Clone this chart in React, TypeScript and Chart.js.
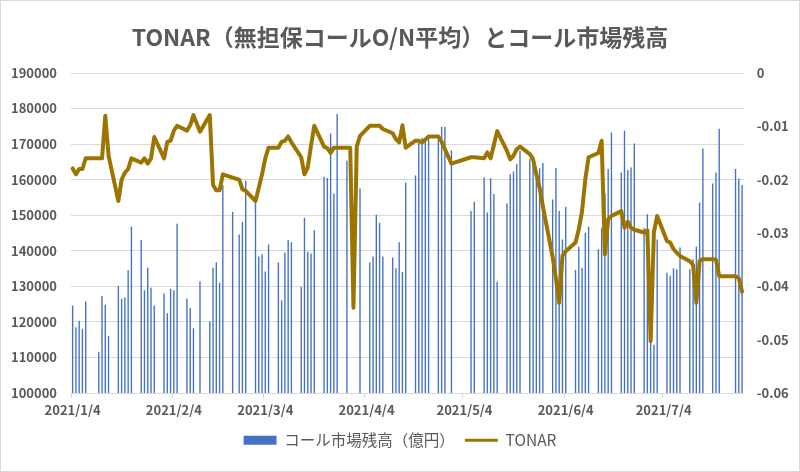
import React, { useEffect, useRef } from 'react';
import { Chart, registerables } from 'chart.js';

Chart.register(...registerables);

// ---- data ----
const chartTitle = 'TONAR（無担保コールO/N平均）とコール市場残高';
const seriesNames = ['コール市場残高（億円）', 'TONAR'];
const xTickLabels = ['2021/1/4', '2021/2/4', '2021/3/4', '2021/4/4', '2021/5/4', '2021/6/4', '2021/7/4'];

const businessDays = [
  '2021/1/4', '2021/1/5', '2021/1/6', '2021/1/7', '2021/1/8',
  '2021/1/12', '2021/1/13', '2021/1/14', '2021/1/15',
  '2021/1/18', '2021/1/19', '2021/1/20', '2021/1/21', '2021/1/22',
  '2021/1/25', '2021/1/26', '2021/1/27', '2021/1/28', '2021/1/29',
  '2021/2/1', '2021/2/2', '2021/2/3', '2021/2/4', '2021/2/5',
  '2021/2/8', '2021/2/9', '2021/2/10', '2021/2/12',
  '2021/2/15', '2021/2/16', '2021/2/17', '2021/2/18', '2021/2/19',
  '2021/2/22', '2021/2/24', '2021/2/25', '2021/2/26',
  '2021/3/1', '2021/3/2', '2021/3/3', '2021/3/4', '2021/3/5',
  '2021/3/8', '2021/3/9', '2021/3/10', '2021/3/11', '2021/3/12',
  '2021/3/15', '2021/3/16', '2021/3/17', '2021/3/18', '2021/3/19',
  '2021/3/22', '2021/3/23', '2021/3/24', '2021/3/25', '2021/3/26',
  '2021/3/29', '2021/3/30', '2021/3/31', '2021/4/1', '2021/4/2',
  '2021/4/5', '2021/4/6', '2021/4/7', '2021/4/8', '2021/4/9',
  '2021/4/12', '2021/4/13', '2021/4/14', '2021/4/15', '2021/4/16',
  '2021/4/19', '2021/4/20', '2021/4/21', '2021/4/22', '2021/4/23',
  '2021/4/26', '2021/4/27', '2021/4/28', '2021/4/30',
  '2021/5/6', '2021/5/7',
  '2021/5/10', '2021/5/11', '2021/5/12', '2021/5/13', '2021/5/14',
  '2021/5/17', '2021/5/18', '2021/5/19', '2021/5/20', '2021/5/21',
  '2021/5/24', '2021/5/25', '2021/5/26', '2021/5/27', '2021/5/28',
  '2021/5/31', '2021/6/1', '2021/6/2', '2021/6/3', '2021/6/4',
  '2021/6/7', '2021/6/8', '2021/6/9', '2021/6/10', '2021/6/11',
  '2021/6/14', '2021/6/15', '2021/6/16', '2021/6/17', '2021/6/18',
  '2021/6/21', '2021/6/22', '2021/6/23', '2021/6/24', '2021/6/25',
  '2021/6/28', '2021/6/29', '2021/6/30', '2021/7/1', '2021/7/2',
  '2021/7/5', '2021/7/6', '2021/7/7', '2021/7/8', '2021/7/9',
  '2021/7/12', '2021/7/13', '2021/7/14', '2021/7/15', '2021/7/16',
  '2021/7/19', '2021/7/20', '2021/7/21',
  '2021/7/26', '2021/7/27', '2021/7/28',
];

const callBalance: (number | null)[] = [
  124600, 118500, 120300, 118000, 125700,
  111600, 127300, 124800, 116000,
  130100, 126500, 126900, 134600, 146800,
  143000, 128900, 135200, 129600, 124600,
  128000, 122400, 129300, 128900, 147600,
  126600, 123900, 118200, 131400,
  120100, 135200, 136800, 131000, 158500,
  150900, 144600, 148100, 159700,
  153600, 138400, 139000, 134200, 141800,
  136700, 126100, 139500, 143000, 142400,
  129800, 149300, 139700, 139200, 145800,
  160800, 160500, 173000, 156100, 178500,
  165300, null, null, null, 157500,
  136700, 138400, 150100, 147900, 138400,
  138100, 135100, 142400, 134000, 159200,
  161200, 170300, 171800, 170800, 171800,
  171400, 174900, 174900, 168200,
  151200, 153800,
  160700, 150800, 160400, 156000, 131300,
  153300, 161500, 162300, 164400, 168100,
  165800, 164900, 163500, 163200, 164700,
  154400, 163300, 151200, 143200, 152400,
  134600, 141100, 135200, 145100, 146800,
  140400, 146500, 156100, 163000, 173300,
  162000, 173800, 162700, 163400, 170200,
  146500, 150300, 114100, 113600, 143200,
  133800, 133000, 135100, 134800, 140900,
  134800, 137600, 141200, 153600, 168800,
  158900, 162000, 174300,
  163000, 160300, 158500,
];

const tonar: number[] = [
  -0.0179, -0.0190, -0.0180, -0.0180, -0.0160,
  -0.0160, -0.0160, -0.0080, -0.0155,
  -0.0240, -0.0200, -0.0187, -0.0180, -0.0160,
  -0.0168, -0.0160, -0.0170, -0.0160, -0.0120,
  -0.0160, -0.0129, -0.0127, -0.0108, -0.0099,
  -0.0108, -0.0098, -0.0079, -0.0110,
  -0.0079, -0.0210, -0.0220, -0.0220, -0.0190,
  -0.0196, -0.0200, -0.0218, -0.0221,
  -0.0240, -0.0215, -0.0190, -0.0160, -0.0140,
  -0.0140, -0.0129, -0.0127, -0.0119, -0.0130,
  -0.0158, -0.0190, -0.0177, -0.0136, -0.0099,
  -0.0138, -0.0141, -0.0150, -0.0140, -0.0140,
  -0.0140, -0.0140, -0.0440, -0.0138, -0.0118,
  -0.0099, -0.0099, -0.0099, -0.0099, -0.0105,
  -0.0113, -0.0124, -0.0130, -0.0098, -0.0140,
  -0.0127, -0.0127, -0.0130, -0.0125, -0.0119,
  -0.0119, -0.0129, -0.0143, -0.0170,
  -0.0158, -0.0158,
  -0.0160, -0.0149, -0.0160, -0.0135, -0.0109,
  -0.0146, -0.0162, -0.0155, -0.0143, -0.0138,
  -0.0152, -0.0162, -0.0190, -0.0215, -0.0250,
  -0.0345, -0.0385, -0.0431, -0.0343, -0.0334,
  -0.0318, -0.0293, -0.0259, -0.0199, -0.0158,
  -0.0150, -0.0127, -0.0340, -0.0274, -0.0268,
  -0.0259, -0.0290, -0.0279, -0.0290, -0.0294,
  -0.0299, -0.0295, -0.0503, -0.0299, -0.0268,
  -0.0315, -0.0318, -0.0330, -0.0337, -0.0343,
  -0.0353, -0.0360, -0.0431, -0.0352, -0.0349,
  -0.0349, -0.0350, -0.0381,
  -0.0381, -0.0385, -0.0410,
];

// ---- styles ----
const BAR_COLOR = '#4472C4';
const LINE_COLOR = '#9C7500';
const TEXT_COLOR = '#595959';
const GRID_COLOR = '#D9D9D9';
const FONT = '"Noto Sans CJK JP", "Noto Sans", sans-serif';

function parseDate(s: string) {
  const [y, m, d] = s.split('/').map(Number);
  return Date.UTC(y, m - 1, d);
}
function fmtDate(t: number) {
  const dt = new Date(t);
  return `${dt.getUTCFullYear()}/${dt.getUTCMonth() + 1}/${dt.getUTCDate()}`;
}

export default function App() {
  const ref = useRef<HTMLCanvasElement | null>(null);

  useEffect(() => {
    if (!ref.current) return;
    // calendar axis: every day between first and last business day
    const labels: string[] = [];
    const start = parseDate(businessDays[0]);
    const end = parseDate(businessDays[businessDays.length - 1]);
    for (let t = start; t <= end; t += 86400000) labels.push(fmtDate(t));
    const pos = new Map(businessDays.map((d, i) => [d, i] as [string, number]));
    const barData = labels.map((l) => (pos.has(l) ? callBalance[pos.get(l)!] : null));
    const lineData = labels.map((l) => (pos.has(l) ? tonar[pos.get(l)!] : null));
    const isTick = (i: number) => i >= 0 && i < labels.length && xTickLabels.includes(labels[i]);

    const framePlugin = {
      id: 'frame',
      beforeDraw(chart: any) {
        const { ctx, width, height } = chart;
        ctx.save();
        ctx.fillStyle = '#ffffff';
        ctx.fillRect(0, 0, width, height);
        ctx.restore();
      },
      afterDraw(chart: any) {
        const { ctx, width, height } = chart;
        ctx.save();
        ctx.strokeStyle = GRID_COLOR;
        ctx.lineWidth = 1;
        ctx.strokeRect(0.5, 0.5, width - 1, height - 1);
        ctx.restore();
      },
    };

    const chart = new Chart(ref.current, {
      type: 'bar',
      data: {
        labels,
        datasets: [
          {
            type: 'bar',
            label: seriesNames[0],
            data: barData,
            backgroundColor: BAR_COLOR,
            borderWidth: 0,
            barPercentage: 0.42,
            categoryPercentage: 1,
            yAxisID: 'y',
            order: 1,
          } as any,
          {
            type: 'line',
            label: seriesNames[1],
            data: lineData,
            borderColor: LINE_COLOR,
            backgroundColor: LINE_COLOR,
            borderWidth: 4,
            pointRadius: 0,
            pointHoverRadius: 0,
            tension: 0,
            spanGaps: true,
            borderJoinStyle: 'round',
            borderCapStyle: 'round',
            yAxisID: 'y1',
            order: 0,
          } as any,
        ],
      },
      options: {
        animation: false,
        responsive: false,
        maintainAspectRatio: false,
        events: [],
        layout: { padding: { left: 0, right: 0, top: 0, bottom: 14 } },
        plugins: {
          title: {
            display: true,
            text: chartTitle,
            color: TEXT_COLOR,
            font: { family: FONT, size: 23, weight: 'bold', lineHeight: 1.2 },
            padding: { top: 23.2, bottom: 22.2 },
          },
          legend: {
            display: true,
            position: 'bottom',
            labels: {
              usePointStyle: true,
              pointStyleWidth: 33,
              boxHeight: 9,
              padding: 10,
              color: TEXT_COLOR,
              font: { family: FONT, size: 15.5 },
              sort: (a: any, b: any) => a.datasetIndex - b.datasetIndex,
              generateLabels: (c: any) => {
                const items = (Chart.defaults.plugins.legend.labels as any).generateLabels(c);
                return items.map((it: any) =>
                  it.datasetIndex === 1
                    ? { ...it, pointStyle: 'line', lineWidth: 3, strokeStyle: LINE_COLOR, fillStyle: LINE_COLOR }
                    : { ...it, pointStyle: 'rect', lineWidth: 0, fillStyle: BAR_COLOR, strokeStyle: BAR_COLOR }
                );
              },
            },
          },
          tooltip: { enabled: false },
        },
        scales: {
          x: {
            type: 'category',
            offset: true,
            grid: {
              offset: true,
              drawOnChartArea: false,
              drawTicks: true,
              tickLength: 5,
              color: (ctx: any) => (isTick(ctx.index) ? GRID_COLOR : 'rgba(0,0,0,0)'),
              tickColor: (ctx: any) => (isTick(ctx.index) ? GRID_COLOR : 'rgba(0,0,0,0)'),
            },
            border: { display: true, color: GRID_COLOR, width: 1 },
            ticks: {
              autoSkip: false,
              maxRotation: 0,
              minRotation: 0,
              padding: 4,
              color: TEXT_COLOR,
              font: { family: FONT, size: 13, weight: 'bold' },
              callback: (_v: any, i: number) => (isTick(i) ? labels[i] : ''),
            },
            afterFit: (s: any) => {
              s.height = 29.5;
            },
          },
          y: {
            position: 'left',
            min: 100000,
            max: 190000,
            grid: { color: GRID_COLOR, drawTicks: false, lineWidth: 1 },
            border: { display: false },
            ticks: {
              stepSize: 10000,
              padding: 14,
              color: TEXT_COLOR,
              font: { family: FONT, size: 13, weight: 'bold' },
              callback: (v: any) => String(v),
            },
            afterFit: (s: any) => {
              s.width = 71;
            },
          },
          y1: {
            position: 'right',
            min: -0.06,
            max: 0,
            grid: { display: false, drawOnChartArea: false, drawTicks: false },
            border: { display: false },
            ticks: {
              stepSize: 0.01,
              padding: 13,
              color: TEXT_COLOR,
              font: { family: FONT, size: 13, weight: 'bold' },
              callback: (v: any) => (Math.abs(v) < 1e-9 ? '0' : Number(v).toFixed(2)),
            },
            afterFit: (s: any) => {
              s.width = 56.3;
            },
          },
        },
      } as any,
      plugins: [framePlugin],
    });
    return () => chart.destroy();
  }, []);

  return (
    <div style={{ position: 'fixed', left: 0, top: 0, width: 800, height: 472, background: '#fff' }}>
      <canvas ref={ref} width={800} height={472} style={{ width: 800, height: 472, display: 'block' }} />
    </div>
  );
}
